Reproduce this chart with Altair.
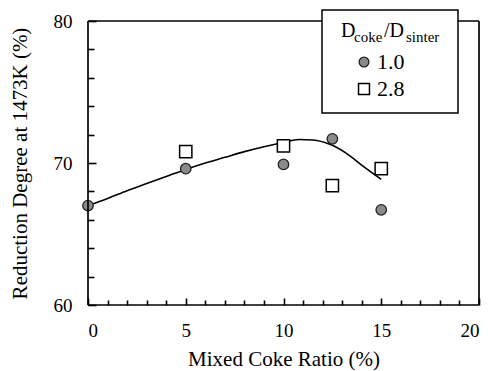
import altair as alt
import pandas as pd

# ---- data ----
coke_ratio_10 = [0, 5, 10, 12.5, 15]
reduction_10 = [67.0, 69.6, 69.9, 71.7, 66.7]
coke_ratio_28 = [5, 10, 12.5, 15]
reduction_28 = [70.8, 71.2, 68.4, 69.6]

curve_x = [0, 1, 2, 3, 4, 5, 6, 7, 8, 9, 10, 10.8, 11.5, 12.4, 13.2, 14.1, 15]
curve_y = [67.0, 67.5, 68.05, 68.55, 69.05, 69.55, 70.0, 70.4, 70.8, 71.15,
           71.45, 71.65, 71.62, 71.3, 70.7, 69.75, 68.85]

x_labels = [0, 5, 10, 15, 20]
x_ticks = list(range(0, 21))
y_labels = [60, 70, 80]
y_ticks = list(range(60, 81, 2))

FONT = "Liberation Serif"
W, H = 391, 284

xscale = alt.Scale(domain=[0, 20], nice=False, zero=False)
yscale = alt.Scale(domain=[60, 80], nice=False, zero=False)

# label axes (outside, no ticks)
xaxis = alt.Axis(values=x_labels, ticks=False, domain=False, grid=False,
                 labelFont=FONT, labelFontSize=19, labelColor="black",
                 labelPadding=16, title="Mixed Coke Ratio (%)",
                 titleFont=FONT, titleFontSize=21, titleFontWeight="normal",
                 titleColor="black", titlePadding=8)
yaxis = alt.Axis(values=y_labels, ticks=False, domain=False, grid=False,
                 labelFont=FONT, labelFontSize=19, labelColor="black",
                 labelPadding=16, title="Reduction Degree at 1473K (%)",
                 titleFont=FONT, titleFontSize=21, titleFontWeight="normal",
                 titleColor="black", titleX=-68, titleY=H / 2,
                 titleBaseline="middle")

# tick-only axes moved onto the opposite edge so that ticks point inward
xtick_axis = alt.Axis(orient="top", offset=-H, values=x_ticks, labels=False,
                      domain=False, grid=False, title="", tickColor="black",
                      tickWidth=1.6,
                      tickSize={"condition": {"test": "datum.value % 5 === 0", "value": 7},
                                "value": 5})
ytick_axis = alt.Axis(orient="right", offset=-W, values=y_ticks, labels=False,
                      domain=False, grid=False, title="", tickColor="black",
                      tickWidth=1.6,
                      tickSize={"condition": {"test": "datum.value % 10 === 0", "value": 8},
                                "value": 6})

X = alt.X("x:Q", scale=xscale, axis=xaxis)
Y = alt.Y("y:Q", scale=yscale, axis=yaxis)
Xn = alt.X("x:Q", scale=xscale, axis=None)
Yn = alt.Y("y:Q", scale=yscale, axis=None)

df10 = pd.DataFrame({"x": coke_ratio_10, "y": reduction_10})
df28 = pd.DataFrame({"x": coke_ratio_28, "y": reduction_28})
dfc = pd.DataFrame({"x": curve_x, "y": curve_y})

tick_layer = alt.Chart(df10).mark_point(opacity=0).encode(
    x=alt.X("x:Q", scale=xscale, axis=xtick_axis),
    y=alt.Y("y:Q", scale=yscale, axis=ytick_axis))

curve = alt.Chart(dfc).mark_line(color="black", strokeWidth=1.6,
                                 interpolate="monotone").encode(x=X, y=Y)
pts10 = alt.Chart(df10).mark_point(shape="circle", filled=True, size=110,
                                   fill="#8a8a8a", stroke="#222",
                                   strokeWidth=1.3, opacity=1).encode(x=Xn, y=Yn)
pts28 = alt.Chart(df28).mark_point(shape="square", filled=True, size=150,
                                   fill="white", stroke="black",
                                   strokeWidth=1.5, opacity=1).encode(x=Xn, y=Yn)

frame_style = dict(color="black", strokeWidth=1.7)
frame = [
    alt.Chart().mark_rule(**frame_style).encode(x=alt.value(0), x2=alt.value(W), y=alt.value(0)),
    alt.Chart().mark_rule(**frame_style).encode(x=alt.value(0), x2=alt.value(W), y=alt.value(H)),
    alt.Chart().mark_rule(**frame_style).encode(x=alt.value(0), y=alt.value(0), y2=alt.value(H)),
    alt.Chart().mark_rule(**frame_style).encode(x=alt.value(W), y=alt.value(0), y2=alt.value(H)),
]

# manual legend (page coords minus plot origin (88, 21))
leg_box = alt.Chart().mark_rect(fill="white", stroke="black", strokeWidth=1.5).encode(
    x=alt.value(234), x2=alt.value(370), y=alt.value(-11), y2=alt.value(92))

def txt(s, x, y, size, align="left", baseline="alphabetic"):
    return alt.Chart().mark_text(font=FONT, fontSize=size, color="black",
                                 align=align, baseline=baseline).encode(
        x=alt.value(x), y=alt.value(y), text=alt.value(s))

leg_title = [
    txt("D", 253, 16, 20),
    txt("coke", 266, 21, 15),
    txt("/D", 296, 16, 20),
    txt("sinter", 318, 21, 15),
]
leg_sym10 = alt.Chart().mark_point(shape="circle", filled=True, size=95,
                                   fill="#8a8a8a", stroke="#222",
                                   strokeWidth=1.3, opacity=1).encode(
    x=alt.value(276), y=alt.value(41))
leg_sym28 = alt.Chart().mark_point(shape="square", filled=True, size=120,
                                   fill="white", stroke="black",
                                   strokeWidth=1.5, opacity=1).encode(
    x=alt.value(276), y=alt.value(68))
leg_lab10 = txt("1.0", 289, 41, 22, baseline="middle")
leg_lab28 = txt("2.8", 289, 68, 22, baseline="middle")

layers = [tick_layer, curve, pts10, pts28] + frame + \
         [leg_box] + leg_title + [leg_sym10, leg_sym28, leg_lab10, leg_lab28]

chart = alt.layer(*layers).resolve_axis(
    x="independent", y="independent"
).properties(
    width=W, height=H,
    autosize=alt.AutoSizeParams(type="none"),
    padding={"left": 80, "top": 13, "right": 10, "bottom": 70},
    background="white",
).configure_view(stroke=None)

chart.save("out.html", embed_options={"renderer": "svg", "actions": False})
